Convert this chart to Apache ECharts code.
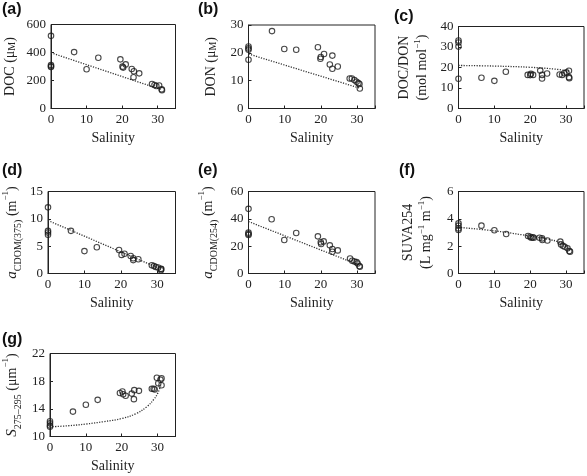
<!DOCTYPE html>
<html><head><meta charset="utf-8">
<script src="https://cdn.jsdelivr.net/npm/echarts@6/dist/echarts.min.js"></script>
<style>html,body{margin:0;padding:0;background:#fff}#c{width:587px;height:476px}</style>
</head><body><div id="c"></div>
<script>
// ---- data ----
const xTicks = [0, 10, 20, 30];

const docSal = [0,0,0,0,6.5,10,13.3,19.5,20.1,20.3,21,22.7,23.3,23.2,24.8,28.4,29.1,29.6,30.4,31.1,31.2];
const docVal = [519,310,302,296,403,280,363,351,299,292,315,282,266,223,251,175,168,161,164,137,131];
const docFit = [[0,398],[31.2,133]];

const donSal = [0,0,0,0,6.5,9.9,13.2,19.2,20,19.9,20.9,22.5,23.2,23.2,24.7,28,28.6,29.3,29.9,30.4,30.7,30.8];
const donVal = [22.3,21.6,21.1,17.5,27.8,21.4,21.1,22,18.5,17.9,19.6,15.8,19,14.3,15.1,10.8,10.8,10.2,9.6,9.1,8.8,7.2];
const donFit = [[0,19.6],[30.8,7.3]];

const ratioSal = [0,0,0,0,6.4,10,13.2,19.3,20,20.2,20.8,22.8,23.3,23.3,24.7,28.2,28.9,29.5,30.1,30.8,30.8,30.9];
const ratioVal = [33.2,32.2,30.2,14.5,15,13.5,17.9,16.4,16.3,16.9,16.4,18.5,16.4,14.6,17.1,16.6,16.4,17.2,17.6,18.4,15.3,14.8];
const ratioFit = [[0,21],[10,20.7],[20,20.1],[27,19.2],[31,18.2]];

const a375Sal = [0,0,0,0,6.3,10,13.4,19.5,20.2,21,22.7,23.4,23.4,24.8,28.5,29.1,29.6,30.2,31,31,31.1];
const a375Val = [12.1,7.8,7.5,7.1,7.8,4.1,4.8,4.3,3.4,3.6,3.2,2.8,2.45,2.6,1.5,1.35,1.2,1.1,0.86,0.6,0.8];
const a375Fit = [[0,9.7],[31,0.8]];

const a254Sal = [0,0,0,0,6.4,9.9,13.2,19.2,20,20.1,20.8,22.5,23.2,23.2,24.7,28.1,28.7,29.3,29.9,30.2,30.7,30.8];
const a254Val = [47.3,29.9,28.9,28.2,39.7,24.5,29.6,27.2,22.8,21.6,23.5,20.6,17.9,15.9,16.9,11,9.3,8.8,8.3,7.3,5.4,4.9];
const a254Fit = [[0,38],[30.8,6]];

const suvaSal = [0,0,0,0,6.4,10,13.3,19.4,20,20.3,20.7,21,22.6,23.3,23.4,24.8,28.4,28.6,29.1,29.6,30.4,30.9,31.1];
const suvaVal = [3.67,3.5,3.3,3.18,3.5,3.16,2.89,2.74,2.69,2.62,2.65,2.62,2.62,2.57,2.45,2.42,2.33,2.13,2.03,1.96,1.84,1.64,1.6];
const suvaFit = [[0,3.38],[10,3.12],[18,2.82],[25,2.5],[29,2.2],[31,1.72]];

const sSal = [0,0,0,0,6.4,10,13.3,19.5,20.2,20.4,21.1,22.8,23.5,23.4,24.8,28.4,28.9,29.2,29.8,30.2,30.8,31.1,31.1];
const sVal = [12.2,11.9,11.6,11.4,13.6,14.6,15.3,16.3,16.5,16.1,15.9,16.2,16.7,15.4,16.6,16.9,16.9,16.8,18.5,17.7,18.2,18.4,17.4];
const sFit = [[0,11.4],[5,11.55],[10,11.8],[15,12.15],[20,12.6],[24,13.3],[27,14.3],[29,15.4],[30,16.2],[31,17.5]];

const panelLetters = ['(a)','(b)','(c)','(d)','(e)','(f)','(g)'];
const yTitles = [
  'DOC (μ{sc|M})',
  'DON (μ{sc|M})',
  'DOC/DON\n(mol mol{sup|−1})',
  '{i|a}{sub|CDOM(375)} (m{sup|−1})',
  '{i|a}{sub|CDOM(254)} (m{sup|−1})',
  'SUVA254\n(L mg{sup|−1} m{sup|−1})',
  '{i|S}{sub|275–295} (μm{sup|−1})'
];
const yRanges = [[0,600,200],[0,30,10],[0,40,10],[0,15,5],[0,60,20],[0,6,2],[10,22,4]];
const xTitle = 'Salinity';

const pts = (xs, ys) => xs.map((x, i) => [x, ys[i]]);
const scatterData = [pts(docSal,docVal), pts(donSal,donVal), pts(ratioSal,ratioVal), pts(a375Sal,a375Val), pts(a254Sal,a254Val), pts(suvaSal,suvaVal), pts(sSal,sVal)];
const fitData = [docFit, donFit, ratioFit, a375Fit, a254Fit, suvaFit, sFit];
const smoothFit = [false,false,true,false,false,true,true];

// ---- layout ----
const grids = [
  {left:48, top:24.5, width:127.5, height:84},
  {left:248.5, top:25, width:126.5, height:83.5},
  {left:458.5, top:26.5, width:127.5, height:82},
  {left:48, top:191.5, width:127.5, height:82},
  {left:248.5, top:191.5, width:126.5, height:82},
  {left:458.5, top:191.5, width:127.5, height:82},
  {left:48, top:353.5, width:127.5, height:83}
];
const nameGaps = [32, 28, 27, 25, 29, 23, 27];
const letterPos = [[2,2],[198,2],[394,9],[2,163],[198,163],[399,163],[2,332]];

const SERIF = '"Liberation Serif","Times New Roman",serif';
const axisColor = '#222';
const rich = {
  sc: {fontSize: 10, fontFamily: SERIF, color: axisColor, lineHeight: 18, verticalAlign: 'bottom', padding:[0,0,2,0]},
  sup: {fontSize: 9, fontFamily: SERIF, color: axisColor, lineHeight: 18, verticalAlign: 'top'},
  sub: {fontSize: 10, fontFamily: SERIF, color: axisColor, lineHeight: 22, verticalAlign: 'bottom'},
  i: {fontSize: 15, fontFamily: SERIF, fontStyle: 'italic', color: axisColor, lineHeight: 18}
};

const xAxes = [], yAxes = [], series = [];
grids.forEach((g, i) => {
  g.show = true; g.borderColor = axisColor; g.borderWidth = 1; g.backgroundColor = 'transparent';
  xAxes.push({
    gridIndex: i, type: 'value', min: 0, max: 35, interval: 10,
    name: xTitle, nameLocation: 'middle', nameGap: 23,
    nameTextStyle: {fontFamily: SERIF, fontSize: 14, color: axisColor},
    axisLine: {show: true, onZero: false, lineStyle: {color: axisColor, width: 1}},
    axisTick: {show: true, inside: true, length: 3, lineStyle: {color: axisColor}},
    axisLabel: {fontFamily: SERIF, fontSize: 13, color: axisColor, margin: 5,
      formatter: v => xTicks.includes(v) ? String(v) : ''},
    splitLine: {show: false}
  });
  const r = yRanges[i];
  yAxes.push({
    gridIndex: i, type: 'value', min: r[0], max: r[1], interval: r[2],
    name: yTitles[i], nameLocation: 'middle', nameRotate: 90, nameGap: nameGaps[i],
    nameTextStyle: {fontFamily: SERIF, fontSize: 14, color: axisColor, lineHeight: 18, rich: rich},
    axisLine: {show: true, onZero: false, lineStyle: {color: axisColor, width: 1}},
    axisTick: {show: true, inside: true, length: 3, lineStyle: {color: axisColor}},
    axisLabel: {fontFamily: SERIF, fontSize: 13, color: axisColor, margin: 5},
    splitLine: {show: false}
  });
  series.push({
    type: 'line', xAxisIndex: i, yAxisIndex: i, data: fitData[i], showSymbol: false,
    smooth: smoothFit[i] ? 0.4 : false, silent: true, z: 1,
    lineStyle: {type: [1.2, 1.4], width: 1.3, color: '#333'}
  });
  series.push({
    type: 'scatter', xAxisIndex: i, yAxisIndex: i, data: scatterData[i], symbol: 'circle', symbolSize: 5.5, z: 2,
    itemStyle: {color: 'rgba(0,0,0,0)', borderColor: '#1a1a1a', borderWidth: 1.1}
  });
});

const graphics = panelLetters.map((t, i) => ({
  type: 'text', left: letterPos[i][0], top: letterPos[i][1],
  style: {text: t, font: 'bold 16px "Liberation Sans", Arial, sans-serif', fill: '#111'}
}));

const chart = echarts.init(document.getElementById('c'), null, {renderer: 'canvas'});
chart.setOption({
  animation: false,
  backgroundColor: '#fff',
  grid: grids, xAxis: xAxes, yAxis: yAxes, series: series, graphic: graphics
});
</script></body></html>
